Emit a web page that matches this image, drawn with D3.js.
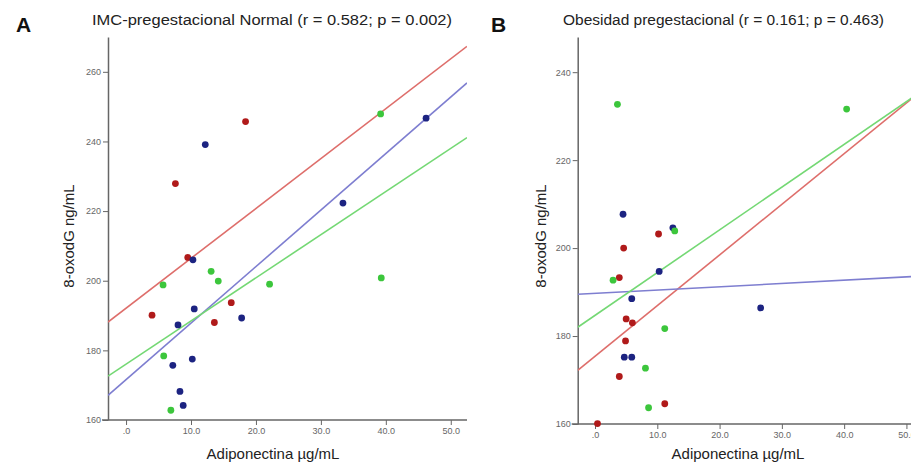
<!DOCTYPE html>
<html><head><meta charset="utf-8">
<script src="https://cdn.jsdelivr.net/npm/d3@7"></script>
<style>body{margin:0;background:#fff}svg{display:block;font-family:"Liberation Sans",Arial,sans-serif}</style>
</head><body><svg id="c" width="911" height="464"></svg>
<script>
// ---- Panel A data (IMC-pregestacional Normal) ----
const aRedX   = [7.6, 18.4, 9.5, 4.0, 16.2, 13.6];
const aRedY   = [227.9, 245.7, 206.7, 190.1, 193.7, 188.0];
const aBlueX  = [12.2, 46.2, 33.4, 10.3, 10.5, 8.0, 17.8, 10.2, 7.2, 8.3, 8.8];
const aBlueY  = [239.1, 246.7, 222.3, 206.0, 191.9, 187.3, 189.3, 177.5, 175.7, 168.2, 164.2];
const aGreenX = [39.2, 13.1, 14.2, 5.7, 22.1, 39.3, 5.8, 6.9];
const aGreenY = [247.9, 202.7, 199.9, 198.8, 199.0, 200.8, 178.4, 162.8];
// fit lines [intercept, slope] : red, blue, green
const aFits = [[192.1, 1.433], [171.6, 1.623], [176.05, 1.239]];

// ---- Panel B data (Obesidad pregestacional) ----
const bRedX   = [10.2, 4.6, 3.9, 5.0, 6.0, 4.9, 3.9, 11.2, 0.4];
const bRedY   = [203.2, 200.0, 193.3, 183.9, 183.0, 178.9, 170.8, 164.6, 160.1];
const bBlueX  = [4.5, 12.5, 10.3, 5.9, 26.6, 4.7, 5.9];
const bBlueY  = [207.7, 204.6, 194.7, 188.5, 186.4, 175.2, 175.2];
const bGreenX = [3.6, 40.4, 12.8, 2.9, 11.2, 8.1, 8.6];
const bGreenY = [232.7, 231.6, 203.9, 192.7, 181.7, 172.7, 163.7];
const bFits = [[175.4, 1.152], [189.7, 0.075], [184.7, 0.972]];

const xTicks = [0, 10, 20, 30, 40, 50];
const aYTicks = [160, 180, 200, 220, 240, 260];
const bYTicks = [160, 180, 200, 220, 240];
const titles = ["IMC-pregestacional Normal (r = 0.582; p = 0.002)", "Obesidad pregestacional (r = 0.161; p = 0.463)"];
const letters = ["A", "B"];
const xLabel = "Adiponectina \u00b5g/mL";
const yLabel = "8-oxodG ng/mL";

const dotCol  = ["#b01a1a", "#1c2381", "#3cc63c"];
const lineCol = ["#de6e6b", "#7e7ed0", "#74d874"];

const svg = d3.select("#c");

function panel(cfg){
  const g = svg.append("g");
  const x = d3.scaleLinear().domain(cfg.xDom).range(cfg.xR);
  const y = d3.scaleLinear().domain(cfg.yDom).range(cfg.yR);
  const clipId = "clip" + cfg.id;
  svg.append("clipPath").attr("id", clipId).append("rect")
    .attr("x", cfg.xR[0]).attr("y", cfg.yR[1]).attr("width", cfg.xR[1]-cfg.xR[0]).attr("height", cfg.yR[0]-cfg.yR[1]);

  // axes
  const xa = d3.axisBottom(x).tickValues(xTicks).tickSize(5).tickSizeOuter(0)
    .tickFormat(d => d === 0 ? ".0" : d3.format(".1f")(d));
  const gx = g.append("g").attr("transform", `translate(0,${cfg.yR[0]})`).call(xa);
  gx.select(".domain").attr("d", `M${cfg.xR[0]-6},0H${cfg.xR[1]}`);
  const ya = d3.axisLeft(y).tickValues(cfg.yTicks).tickSize(5).tickSizeOuter(0);
  const gy = g.append("g").attr("transform", `translate(${cfg.xR[0]},0)`).call(ya);
  [gx, gy].forEach(a => {
    a.select(".domain").attr("stroke", "#666").attr("stroke-width", 1.5);
    a.selectAll(".tick line").attr("stroke", "#666");
    a.selectAll(".tick text").attr("fill", "#666").attr("font-size", 9).attr("font-family", "Liberation Sans, Arial");
  });
  gy.selectAll(".tick text").attr("x", -7);
  gx.selectAll(".tick text").attr("y", 8);

  // fit lines
  const lg = g.append("g").attr("clip-path", `url(#${clipId})`);
  cfg.fits.forEach((f, i) => {
    const xs = cfg.xDom;
    lg.append("line")
      .attr("x1", x(xs[0])).attr("y1", y(f[0] + f[1]*xs[0]))
      .attr("x2", x(xs[1])).attr("y2", y(f[0] + f[1]*xs[1]))
      .attr("stroke", lineCol[i]).attr("stroke-width", 1.6);
  });

  // points
  cfg.series.forEach((s, i) => {
    g.append("g").selectAll("circle").data(s[0].map((v, k) => [v, s[1][k]])).join("circle")
      .attr("cx", d => x(d[0])).attr("cy", d => y(d[1])).attr("r", 3.4)
      .attr("fill", dotCol[i]);
  });

  // labels
  g.append("text").attr("x", cfg.letterX).attr("y", 32).attr("font-size", 21).attr("font-weight", "bold")
    .attr("fill", "#111").text(cfg.letter);
  g.append("text").attr("x", cfg.titleX).attr("y", 25).attr("font-size", 14).attr("fill", "#222")
    .attr("textLength", cfg.titleW).attr("lengthAdjust", "spacingAndGlyphs").text(cfg.title);
  g.append("text").attr("x", cfg.xLabX).attr("y", 459).attr("text-anchor", "middle").attr("font-size", 15)
    .attr("fill", "#222").text(xLabel);
  g.append("text").attr("transform", `translate(${cfg.yLabX},236) rotate(-90)`).attr("text-anchor", "middle")
    .attr("font-size", 15).attr("fill", "#222").text(yLabel);
}

panel({id: "A", xDom: [-2.78, 52.5], xR: [108, 467], yDom: [160, 270], yR: [420, 37],
  yTicks: aYTicks, fits: aFits,
  series: [[aRedX, aRedY], [aBlueX, aBlueY], [aGreenX, aGreenY]],
  letter: letters[0], letterX: 16, title: titles[0], titleX: 92, titleW: 360, xLabX: 273, yLabX: 74});

panel({id: "B", xDom: [-2.78, 52.5], xR: [577.7, 922], yDom: [160, 248], yR: [424, 37],
  yTicks: bYTicks, fits: bFits,
  series: [[bRedX, bRedY], [bBlueX, bBlueY], [bGreenX, bGreenY]],
  letter: letters[1], letterX: 491, title: titles[1], titleX: 563, titleW: 321, xLabX: 738, yLabX: 546});
</script></body></html>
